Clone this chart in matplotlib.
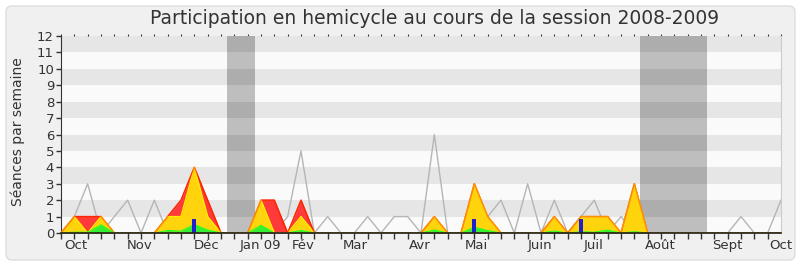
import matplotlib
matplotlib.use("Agg")
import matplotlib.pyplot as plt
from matplotlib.patches import FancyBboxPatch, Rectangle
import numpy as np

# ---- data (weekly values, week index 0..54) ----
weeks = list(range(55))
presences = [0, 1, 1, 1, 0, 0, 0, 0, 1, 2, 4, 2, 0, 0, 0, 2, 2, 0, 2, 0,
             0, 0, 0, 0, 0, 0, 0, 0, 1, 0, 0, 3, 1, 0, 0, 0, 0, 1, 0, 1,
             1, 1, 0, 3, 0, 0, 0, 0, 0, 0, 0, 0, 0, 0, 0]
participations = [0, 1, 0, 1, 0, 0, 0, 0, 1, 1, 4, 1, 0, 0, 0, 2, 0, 0, 1, 0,
                  0, 0, 0, 0, 0, 0, 0, 0, 1, 0, 0, 3, 1, 0, 0, 0, 0, 1, 0, 1,
                  1, 1, 0, 3, 0, 0, 0, 0, 0, 0, 0, 0, 0, 0, 0]
mots = [0, 0.05, 0.05, 0.5, 0, 0, 0, 0, 0.15, 0.12, 0.52, 0.18, 0, 0, 0, 0.47, 0, 0, 0.16, 0,
        0, 0, 0, 0, 0, 0, 0, 0, 0.18, 0, 0, 0.35, 0.15, 0, 0, 0, 0, 0.12, 0, 0.08,
        0.05, 0.18, 0, 0.08, 0, 0, 0, 0, 0, 0, 0, 0, 0, 0, 0]
questions = [0, 0, 0, 0, 0, 0, 0, 0, 0, 0, 0.85, 0, 0, 0, 0, 0, 0, 0, 0, 0,
             0, 0, 0, 0, 0, 0, 0, 0, 0, 0, 0, 0.85, 0, 0, 0, 0, 0, 0, 0, 0.85,
             0, 0, 0, 0, 0, 0, 0, 0, 0, 0, 0, 0, 0, 0, 0]
mediane = [0, 1, 3, 0, 1, 2, 0, 2, 0, 1, 0, 1, 0, 0, 0, 1, 0, 1, 5, 0,
           1, 0, 0, 1, 0, 1, 1, 0, 6, 0, 0, 1, 1, 2, 0, 3, 0, 2, 0, 1,
           2, 0, 1, 0, 0, 0, 0, 0, 0, 0, 0, 1, 0, 0, 2]
vacances_debut = [12.45, 43.43]
vacances_fin = [14.55, 48.43]
mois_labels = ["Oct", "Nov", "Déc", "Jan 09", "Fév", "Mar", "Avr", "Mai",
               "Juin", "Juil", "Août", "Sept", "Oct"]
mois_pos = [1.13, 5.93, 10.95, 14.93, 18.15, 22.06, 26.93, 31.13,
            35.93, 39.91, 44.93, 49.96, 54.0]
title = "Participation en hemicycle au cours de la session 2008-2009"

W, H = 800, 267
fig = plt.figure(figsize=(W / 100, H / 100), dpi=100)
fig.patch.set_facecolor("white")

# background rounded panel
bg = fig.add_axes([0, 0, 1, 1])
bg.set_xlim(0, W)
bg.set_ylim(0, H)
bg.axis("off")
bg.add_patch(FancyBboxPatch((6, 7), 789, 254,
                            boxstyle="round,pad=0,rounding_size=6",
                            fc="#f0f0f0", ec="#dddddd", lw=1))

ax = fig.add_axes([61 / W, 34 / H, 720 / W, 197 / H])
ax.set_xlim(0, 54)
ax.set_ylim(0, 12)

# stripes
for k in range(12):
    ax.axhspan(k, k + 1, color="#e6e6e6" if k % 2 == 1 else "#fafafa", lw=0, zorder=0)
    for s, e in zip(vacances_debut, vacances_fin):
        ax.add_patch(Rectangle((s, k), e - s, 1, lw=0, zorder=0.5,
                               color="#adadad" if k % 2 == 1 else "#bebebe"))

ax.plot(weeks, mediane, color="#b5b5b5", lw=1, zorder=1)

ax.fill_between(weeks, 0, presences, color="#ff3a3a", lw=0, zorder=2)
ax.plot(weeks, presences, color="#ff1a00", lw=1.0, zorder=2.1)
ax.fill_between(weeks, 0, participations, color="#ffd40d", lw=0, zorder=3)
ax.plot(weeks, participations, color="#ffee00", lw=1.0, zorder=3.1)
ax.plot(weeks, presences, color="#ff3000", lw=1.0, alpha=0.5, zorder=3.2)
ax.fill_between(weeks, 0, mots, color="#33ee33", lw=0, zorder=4)
ax.plot(weeks, mots, color="#22ff22", lw=0.8, zorder=4.1)
ax.bar(weeks, questions, width=0.3, color="#2020cc", lw=0, zorder=5)

ax.spines["top"].set_visible(False)
ax.spines["right"].set_color("#cccccc")
ax.spines["left"].set_color("#333333")
ax.spines["bottom"].set_color("#2a1a1a")
ax.spines["bottom"].set_linewidth(1.2)
ax.spines["bottom"].set_zorder(6)

ax.set_yticks(range(13))
ax.tick_params(axis="y", length=3.5, width=1, colors="#333333", labelsize=9.5, pad=1.5)
ax.set_xticks(mois_pos)
ax.set_xticklabels(mois_labels)
ax.set_xticks(weeks, minor=True)
ax.tick_params(axis="x", which="major", length=0, labelsize=9.5, colors="#333333", pad=4)
ax.tick_params(axis="x", which="minor", length=4, width=1, color="#333333", direction="out")

sec = ax.secondary_xaxis("top")
sec.set_xticks(weeks)
sec.set_xticklabels([])
sec.tick_params(length=1.2, width=0.8, color="#333333", direction="out")
sec.spines["top"].set_visible(False)

fig.text(435 / W, 1 - 19 / H, title, ha="center", va="center", fontsize=13.5, color="#333333")
fig.text(18 / W, 1 - 132 / H, "Séances par semaine", ha="center", va="center",
         rotation=90, fontsize=10, color="#333333")

fig.savefig("out.png", dpi=100, facecolor=fig.get_facecolor())
